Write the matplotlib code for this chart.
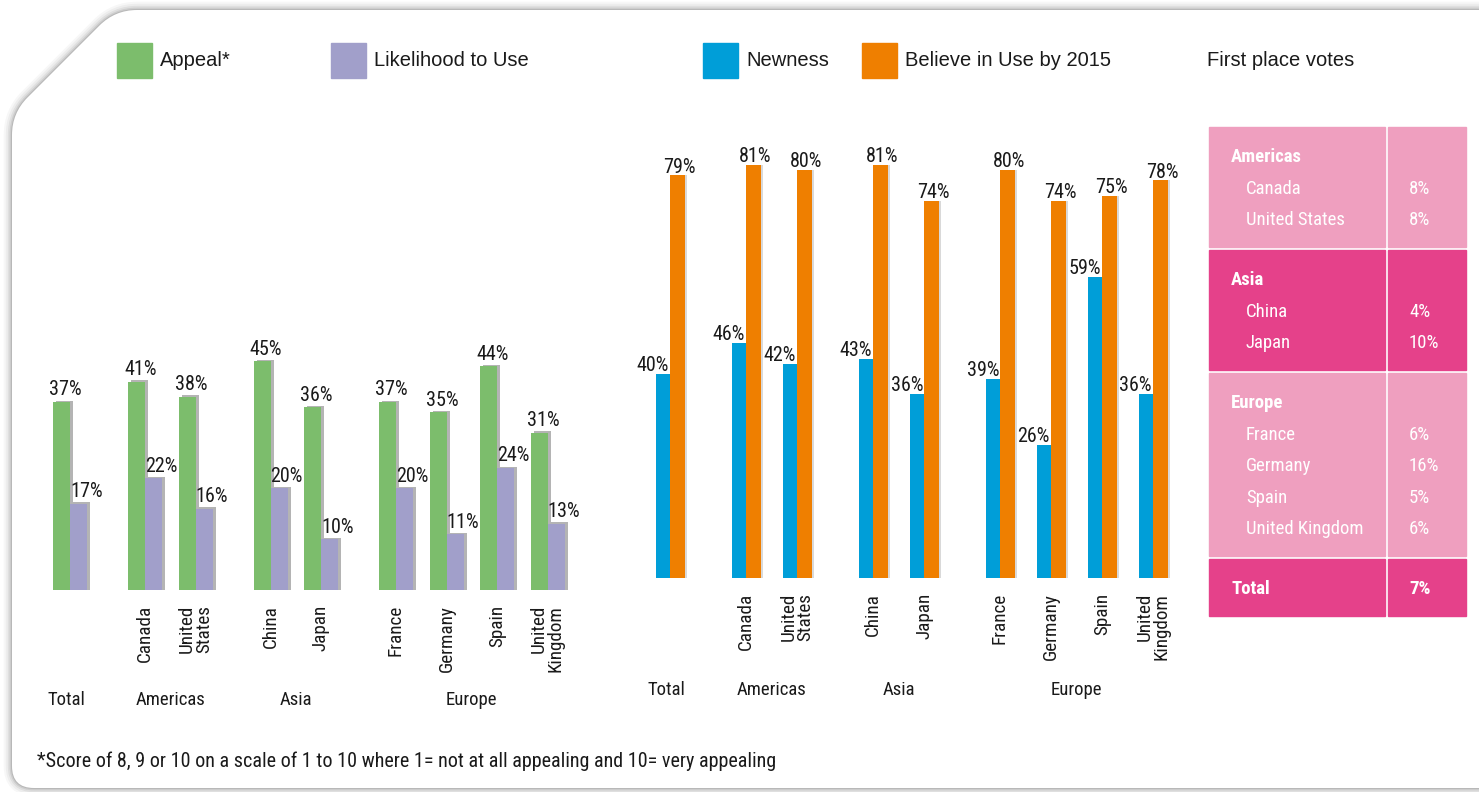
import numpy as np
import matplotlib
matplotlib.use("Agg")
import matplotlib.pyplot as plt
from matplotlib import font_manager
from matplotlib.path import Path
from matplotlib.patches import PathPatch, Rectangle

# ---------------- data ----------------
countries = ["Total", "Canada", "United\nStates", "China", "Japan",
             "France", "Germany", "Spain", "United\nKingdom"]
regions = ["Total", "Americas", "Asia", "Europe"]
region_sizes = [1, 2, 2, 4]

appeal = [37, 41, 38, 45, 36, 37, 35, 44, 31]
likelihood = [17, 22, 16, 20, 10, 20, 11, 24, 13]
newness = [40, 46, 42, 43, 36, 39, 26, 59, 36]
believe = [79, 81, 80, 81, 74, 80, 74, 75, 78]

table_regions = ["Americas", "Asia", "Europe"]
table_countries = [["Canada", "United States"], ["China", "Japan"],
                   ["France", "Germany", "Spain", "United Kingdom"]]
table_votes = [[8, 8], [4, 10], [6, 16, 5, 6]]
total_votes = 7

footnote = "*Score of 8, 9 or 10 on a scale of 1 to 10 where 1= not at all appealing and 10= very appealing"

# colours
GREEN = "#7cbd6c"
PURPLE = "#a19fca"
BLUE = "#009ed8"
ORANGE = "#ef7f00"
SHADOW = "#b4b4b4"
PINK_LIGHT = "#ef9fbf"
PINK_DARK = "#e5418a"


# look for a narrow/condensed face, else use Liberation Sans
def find_narrow(bold=False):
    want = ["Liberation Sans Narrow", "Roboto Condensed", "Open Sans Condensed", "DejaVu Sans"]
    for name in want:
        for f in font_manager.fontManager.ttflist:
            if f.name != name or f.style != "normal":
                continue
            is_bold = (f.weight in ("bold", 700) or str(f.weight) == "700")
            if is_bold != bold:
                continue
            if name == "DejaVu Sans" and "ondensed" not in f.fname:
                continue
            return font_manager.FontProperties(fname=f.fname)
    return font_manager.FontProperties(family="Liberation Sans",
                                       weight="bold" if bold else "normal")


NARROW = find_narrow()
NARROW_B = find_narrow(bold=True)
REGULAR = "Liberation Sans"


def nfont(size, bold=False):
    fp = (NARROW_B if bold else NARROW).copy()
    fp.set_size(size)
    return fp


W, H = 1479, 792
fig = plt.figure(figsize=(W / 100, H / 100), dpi=100)
fig.patch.set_facecolor("white")

# background axes in pixel coordinates
bg = fig.add_axes([0, 0, 1, 1])
bg.set_xlim(0, W)
bg.set_ylim(H, 0)
bg.axis("off")


def rounded_path(pts, r):
    verts, codes = [], []
    n = len(pts)
    for i in range(n):
        p0 = np.array(pts[i - 1], float)
        p1 = np.array(pts[i], float)
        p2 = np.array(pts[(i + 1) % n], float)
        d1 = (p0 - p1) / np.linalg.norm(p0 - p1)
        d2 = (p2 - p1) / np.linalg.norm(p2 - p1)
        verts.append(p1 + d1 * r)
        codes.append(Path.MOVETO if i == 0 else Path.LINETO)
        verts += [p1, p1 + d2 * r]
        codes += [Path.CURVE3, Path.CURVE3]
    verts.append(verts[0])
    codes.append(Path.CLOSEPOLY)
    return Path(verts, codes)


card = rounded_path([(1540, 10), (1540, 788), (12, 788), (12, 113), (115, 10)], 22)
for lw, a in [(12, 0.03), (9, 0.04), (6, 0.06), (3.5, 0.08), (1.5, 0.1)]:
    bg.add_patch(PathPatch(card, facecolor="none", edgecolor="black", lw=lw, alpha=a))
bg.add_patch(PathPatch(card, facecolor="white", edgecolor="none"))

# legend
legend_items = [("Appeal*", GREEN, 117), ("Likelihood to Use", PURPLE, 331),
                ("Newness", BLUE, 703), ("Believe in Use by 2015", ORANGE, 862)]
for label, col, x in legend_items:
    bg.add_patch(Rectangle((x, 43), 35, 35, color=col))
    bg.text(x + 43, 61, label, fontsize=14.5, family=REGULAR, va="center", color="#1a1a1a")
bg.text(1207, 61, "First place votes", fontsize=14.5, family=REGULAR, va="center",
        color="#1a1a1a")


def centers(start, step, gap):
    xs, x = [], start
    for n in region_sizes:
        for _ in range(n):
            xs.append(x)
            x += step
        x += gap - step
    return xs


left_x = np.array(centers(70, 50.5, 75))
right_x = np.array(centers(670, 51, 76))

# ---------------- left chart ----------------
base_l, scale_l = 590, 5.08
axl = fig.add_axes([0, (H - base_l) / H, 620 / W, 490 / H])
axl.set_xlim(0, 620)
axl.set_ylim(0, 490 / scale_l)
axl.axis("off")
bw = 17
axl.bar(left_x - bw / 2 + 3, np.array(appeal) + 0.3, bw, color=SHADOW, zorder=1)
axl.bar(left_x - bw / 2, appeal, bw, color=GREEN, zorder=2)
axl.bar(left_x + bw / 2 + 3, np.array(likelihood) + 0.3, bw, color=SHADOW, zorder=3)
axl.bar(left_x + bw / 2, likelihood, bw, color=PURPLE, zorder=4)
for x, a, l in zip(left_x, appeal, likelihood):
    axl.text(x - bw / 2 + 4, a + 1.3, f"{a}%", ha="center", va="baseline",
             fontproperties=nfont(14.5), color="#1a1a1a", zorder=5)
    axl.text(x, l + 1.3, f"{l}%", ha="left", va="baseline",
             fontproperties=nfont(14.5), color="#1a1a1a", zorder=5)

# ---------------- right chart ----------------
base_r, scale_r = 578, 5.1
axr = fig.add_axes([600 / W, (H - base_r) / H, 600 / W, 478 / H])
axr.set_xlim(600, 1200)
axr.set_ylim(0, 478 / scale_r)
axr.axis("off")
bw2 = 14.5
axr.bar(right_x + bw2 / 2 + 2, np.array(believe), bw2, color="#d9d9d9", zorder=1)
axr.bar(right_x - bw2 / 2 + 1.5, np.array(newness), bw2, color="#d9d9d9", zorder=1)
axr.bar(right_x - bw2 / 2, newness, bw2, color=BLUE, zorder=2)
axr.bar(right_x + bw2 / 2, believe, bw2, color=ORANGE, zorder=3)
for x, n, b in zip(right_x, newness, believe):
    axr.text(x - 1, n + 0.6, f"{n}%", ha="right", va="baseline",
             fontproperties=nfont(14.5), color="#1a1a1a", zorder=5)
    axr.text(x + 9, b + 0.5, f"{b}%", ha="center", va="baseline",
             fontproperties=nfont(14.5), color="#1a1a1a", zorder=5)

# ---------------- category labels ----------------
for xs, top, ry in [(left_x, 605, 700), (right_x, 593, 690)]:
    for x, name in zip(xs[1:], countries[1:]):
        bg.text(x, top, name, rotation=90, ha="center", va="top", multialignment="right",
                fontproperties=nfont(13.8), color="#1a1a1a", linespacing=0.9)
    i = 0
    for reg, n in zip(regions, region_sizes):
        cx = np.mean(xs[i:i + n]) - (4 if reg == "Total" else 0)
        bg.text(cx, ry, reg, ha="center", va="center", fontproperties=nfont(13.5),
                color="#1a1a1a")
        i += n

# ---------------- table ----------------
c1, c2, c3 = 1209, 1387, 1466
blocks = [(127, 247, PINK_LIGHT), (250, 370, PINK_DARK), (373, 556, PINK_LIGHT)]
for (y0, y1, col), reg, ctrs, votes in zip(blocks, table_regions, table_countries, table_votes):
    bg.add_patch(Rectangle((c1, y0), c2 - 2 - c1, y1 - y0, color=col))
    bg.add_patch(Rectangle((c2 + 1, y0), c3 - c2 - 1, y1 - y0, color=col))
    bg.text(1231, y0 + 30, reg, fontproperties=nfont(13.5, True), color="white", va="center")
    for k, (c, v) in enumerate(zip(ctrs, votes)):
        yy = y0 + 62 + k * 31.3
        bg.text(1246, yy, c, fontproperties=nfont(13.5), color="white", va="center")
        bg.text(1409, yy, f"{v}%", fontproperties=nfont(13.5), color="white", va="center")
bg.add_patch(Rectangle((c1, 559), c2 - 2 - c1, 57, color=PINK_DARK))
bg.add_patch(Rectangle((c2 + 1, 559), c3 - c2 - 1, 57, color=PINK_DARK))
bg.text(1231, 589, "Total", fontproperties=nfont(13.5, True), color="white", va="center")
bg.text(1409, 589, f"{total_votes}%", fontproperties=nfont(13.5, True),
        color="white", va="center")

# footnote
bg.text(37, 761, footnote, fontproperties=nfont(14.5), va="center", color="#1a1a1a")

fig.savefig("out.png", dpi=100)
